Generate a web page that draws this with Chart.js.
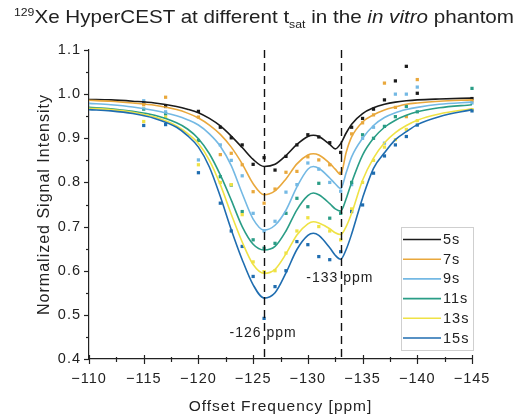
<!DOCTYPE html>
<html>
<head>
<meta charset="utf-8">
<script src="https://cdn.jsdelivr.net/npm/chart.js@4/dist/chart.umd.min.js"></script>
<style>
  html, body { margin: 0; padding: 0; background: #fff; }
  #wrap { position: relative; width: 518px; height: 414px; }
  #c { position: absolute; left: 0; top: 0; }
  #title {
    position: absolute; left: 4.5px; top: 6px; width: 518px;
    text-align: center; white-space: nowrap;
    font-family: "Liberation Sans", Arial, sans-serif;
    font-size: 18.5px; color: #222; line-height: 22px;
    transform: scaleX(1.114); transform-origin: 50% 50%;
  }
  #title sup { font-size: 11px; vertical-align: 0; position: relative; top: -7px; }
  #title sub { font-size: 11px; vertical-align: 0; position: relative; top: 5px; }
</style>
</head>
<body>
<div id="wrap">
  <canvas id="c" width="518" height="414"></canvas>
  <div id="title"><sup>129</sup>Xe HyperCEST at different t<sub>sat</sub> in the <i>in vitro</i> phantom</div>
</div>
<script>
// Saturation times
const seriesLabels = ['5s', '7s', '9s', '11s', '13s', '15s'];

// Fitted z-spectra (offset in ppm, normalized signal)
const fitOffsets = [-110, -112, -114, -116, -118, -119, -120, -121, -122, -123, -124, -125, -126, -127, -128, -129, -130, -130.5, -131, -132, -132.5, -133, -133.5, -134, -135, -136, -137, -138, -139, -140, -142, -145];
const fit5s  = [0.988, 0.987, 0.984, 0.980, 0.972, 0.966, 0.958, 0.945, 0.928, 0.905, 0.879, 0.852, 0.836, 0.841, 0.861, 0.886, 0.904, 0.907, 0.904, 0.886, 0.876, 0.888, 0.912, 0.932, 0.956, 0.969, 0.977, 0.982, 0.985, 0.987, 0.989, 0.991];
const fit7s  = [0.986, 0.984, 0.980, 0.975, 0.965, 0.957, 0.946, 0.930, 0.909, 0.880, 0.842, 0.797, 0.772, 0.781, 0.808, 0.842, 0.862, 0.865, 0.862, 0.843, 0.830, 0.818, 0.868, 0.903, 0.937, 0.953, 0.964, 0.971, 0.977, 0.980, 0.984, 0.987];
const fit9s  = [0.979, 0.976, 0.971, 0.963, 0.951, 0.942, 0.930, 0.910, 0.882, 0.838, 0.775, 0.717, 0.692, 0.703, 0.737, 0.790, 0.830, 0.836, 0.832, 0.810, 0.797, 0.786, 0.822, 0.858, 0.900, 0.929, 0.947, 0.958, 0.965, 0.970, 0.977, 0.982];
const fit11s = [0.970, 0.967, 0.961, 0.952, 0.935, 0.921, 0.899, 0.865, 0.817, 0.760, 0.700, 0.660, 0.647, 0.655, 0.690, 0.738, 0.770, 0.776, 0.772, 0.752, 0.740, 0.735, 0.763, 0.800, 0.862, 0.900, 0.925, 0.941, 0.952, 0.960, 0.969, 0.976];
const fit13s = [0.968, 0.965, 0.959, 0.948, 0.928, 0.911, 0.888, 0.850, 0.795, 0.728, 0.665, 0.614, 0.594, 0.603, 0.638, 0.681, 0.706, 0.711, 0.708, 0.695, 0.686, 0.682, 0.700, 0.730, 0.805, 0.855, 0.890, 0.913, 0.929, 0.941, 0.955, 0.967];
const fit15s = [0.965, 0.962, 0.956, 0.945, 0.925, 0.906, 0.880, 0.835, 0.768, 0.693, 0.625, 0.568, 0.538, 0.550, 0.595, 0.648, 0.680, 0.685, 0.680, 0.652, 0.635, 0.626, 0.648, 0.683, 0.765, 0.832, 0.867, 0.897, 0.915, 0.931, 0.949, 0.965];

// Measured points
const measOffsets = [-115, -117, -120, -122, -123, -124, -125, -126, -127, -128, -129, -130, -131, -132, -133, -134, -135, -136, -137, -138, -139, -140, -145];
const meas5s  = [0.980, 0.972, 0.961, 0.925, 0.901, 0.885, 0.841, 0.856, 0.828, 0.859, 0.885, 0.908, 0.903, 0.890, 0.868, 0.925, 0.945, 0.966, 0.987, 1.030, 1.063, 1.002, 0.990];
const meas7s  = [0.976, 0.993, 0.948, 0.863, 0.866, 0.840, 0.779, 0.753, 0.785, 0.823, 0.825, 0.858, 0.851, 0.840, 0.821, 0.910, 0.935, 0.953, 1.025, 0.970, 0.949, 1.033, 0.985];
const meas9s  = [0.985, 0.960, 0.851, 0.885, 0.850, 0.815, 0.730, 0.690, 0.712, 0.778, 0.795, 0.844, 0.830, 0.800, 0.780, 0.795, 0.900, 0.925, 0.889, 1.000, 1.000, 1.016, 0.980];
const meas11s = [0.966, 0.955, 0.895, 0.813, 0.794, 0.734, 0.670, 0.651, 0.662, 0.730, 0.764, 0.745, 0.798, 0.719, 0.730, 0.800, 0.908, 0.900, 0.927, 0.949, 0.972, 0.960, 1.013];
const meas13s = [0.938, 0.948, 0.840, 0.800, 0.795, 0.727, 0.620, 0.598, 0.600, 0.640, 0.690, 0.720, 0.700, 0.690, 0.670, 0.740, 0.800, 0.850, 0.880, 0.897, 0.920, 0.940, 0.965];
const meas15s = [0.929, 0.931, 0.822, 0.753, 0.690, 0.655, 0.587, 0.492, 0.564, 0.600, 0.666, 0.659, 0.632, 0.625, 0.643, 0.734, 0.749, 0.821, 0.860, 0.885, 0.904, 0.930, 0.962];

// Xe@cryptophane resonances
const markerOffsets = [-126, -133];
const markerLabels = ['-126 ppm', '-133 ppm'];

const seriesColors = ['#1b1b1b', '#e9a83c', '#74b9e4', '#2a9d86', '#efe245', '#1f6db0'];
const fitSeries = [fit5s, fit7s, fit9s, fit11s, fit13s, fit15s];
const measSeries = [meas5s, meas7s, meas9s, meas11s, meas13s, meas15s];

const FONT = '"Liberation Sans", Arial, Helvetica, sans-serif';
const TEXT = '#222';
const SPACING = '1px';

const toXY = (xs, ys) => xs.map((x, i) => ({ x, y: ys[i] }));

const datasets = [];
seriesLabels.forEach((lab, i) => {
  datasets.push({
    label: lab,
    data: toXY(fitOffsets, fitSeries[i]),
    borderColor: seriesColors[i],
    borderWidth: 1.6,
    pointRadius: 0,
    cubicInterpolationMode: 'monotone',
    fill: false,
    order: 6 - i
  });
});
seriesLabels.forEach((lab, i) => {
  datasets.push({
    label: lab + ' data',
    data: toXY(measOffsets, measSeries[i]),
    showLine: false,
    pointStyle: 'rect',
    pointRadius: 2.3,
    pointBorderWidth: 0,
    backgroundColor: seriesColors[i],
    borderColor: seriesColors[i],
    clip: 6,
    order: 12 - i
  });
});

const decorations = {
  id: 'decorations',
  beforeDraw(chart) {
    // slightly wider text setting used throughout the figure
    chart.ctx.letterSpacing = SPACING;
  },
  afterDatasetsDraw(chart, args, opts) {
    const { ctx, chartArea: a, scales: { x, y } } = chart;
    ctx.save();
    // dashed resonance markers
    ctx.strokeStyle = '#111';
    ctx.lineWidth = 1.4;
    ctx.setLineDash([8, 5]);
    markerOffsets.forEach(p => {
      const px = Math.round(x.getPixelForValue(p)) + 0.5;
      ctx.beginPath();
      ctx.moveTo(px, a.top);
      ctx.lineTo(px, a.bottom);
      ctx.stroke();
    });
    ctx.setLineDash([]);
    // resonance labels, the gap between number and unit sits on the marker
    ctx.font = '14px ' + FONT;
    ctx.fillStyle = TEXT;
    ctx.textBaseline = 'middle';
    ctx.textAlign = 'left';
    markerLabels.forEach((txt, i) => {
      const px = x.getPixelForValue(markerOffsets[i]);
      const head = txt.split(' ')[0];
      const sx = px - ctx.measureText(head).width - ctx.measureText(' ').width / 2;
      ctx.fillText(txt, sx, y.getPixelForValue(opts.labelLevels[i]));
    });
    ctx.restore();
  },
  afterDraw(chart, args, opts) {
    const { ctx, chartArea: a, scales: { x, y } } = chart;
    ctx.save();
    ctx.strokeStyle = '#222';
    ctx.lineWidth = 1.2;
    // y ticks: major 0.1, minor 0.05, pointing outward
    for (let k = 0; k <= 14; k++) {
      const v = 0.4 + k * 0.05;
      const py = Math.round(y.getPixelForValue(v)) + 0.5;
      const len = k % 2 === 0 ? 5 : 3;
      ctx.beginPath();
      ctx.moveTo(a.left - len, py);
      ctx.lineTo(a.left, py);
      ctx.stroke();
    }
    // x ticks: major 5 ppm, minor 2.5 ppm, crossing the axis
    for (let k = 0; k <= 14; k++) {
      const v = -110 - k * 2.5;
      const px = Math.round(x.getPixelForValue(v)) + 0.5;
      const major = k % 2 === 0;
      ctx.beginPath();
      ctx.moveTo(px, a.bottom - (major ? 4 : 2));
      ctx.lineTo(px, a.bottom + (major ? 5 : 3));
      ctx.stroke();
    }
    // legend box
    const L = opts.legend;
    ctx.strokeStyle = '#cfcfcf';
    ctx.lineWidth = 1;
    ctx.strokeRect(L.left + 0.5, L.top + 0.5, L.width, L.height);
    ctx.font = '14.5px ' + FONT;
    ctx.fillStyle = TEXT;
    ctx.textBaseline = 'middle';
    ctx.textAlign = 'left';
    seriesLabels.forEach((lab, i) => {
      const cy = L.top + L.firstRow + i * L.rowStep;
      ctx.strokeStyle = seriesColors[i];
      ctx.lineWidth = 1.6;
      ctx.beginPath();
      ctx.moveTo(L.left + 2, cy + 0.5);
      ctx.lineTo(L.left + 2 + L.sample, cy + 0.5);
      ctx.stroke();
      ctx.fillText(lab, L.left + 4 + L.sample, cy + 1);
    });
    ctx.restore();
  }
};

new Chart(document.getElementById('c'), {
  type: 'line',
  data: { datasets },
  options: {
    responsive: false,
    animation: false,
    devicePixelRatio: 1,
    layout: { padding: { top: 50, right: 46, left: 0, bottom: 0 } },
    plugins: {
      legend: { display: false },
      tooltip: { enabled: false },
      decorations: {
        labelLevels: [0.459, 0.583],
        legend: { left: 401, top: 227, width: 72, height: 123, firstRow: 12, rowStep: 19.7, sample: 38 }
      }
    },
    scales: {
      x: {
        type: 'linear',
        reverse: true,
        min: -145,
        max: -110,
        afterFit: s => { s.height = 55; },
        grid: { display: false, drawTicks: false },
        border: { display: true, color: '#222', width: 1.2 },
        ticks: {
          stepSize: 5,
          padding: 11,
          color: TEXT,
          font: { family: FONT, size: 14.5 },
          maxRotation: 0,
          autoSkip: false,
          callback: v => (v < 0 ? '\u2212' : '') + Math.abs(v)
        },
        title: {
          display: true,
          text: 'Offset Frequency [ppm]',
          color: TEXT,
          font: { family: FONT, size: 15.5, lineHeight: 1 },
          padding: 0
        }
      },
      y: {
        min: 0.4,
        max: 1.1,
        afterFit: s => { s.width = 89; },
        grid: { display: false, drawTicks: false },
        border: { display: true, color: '#222', width: 1.2 },
        ticks: {
          stepSize: 0.1,
          padding: 8,
          color: TEXT,
          font: { family: FONT, size: 14.5 },
          callback: v => v.toFixed(1)
        },
        title: {
          display: true,
          text: 'Normalized Signal Intensity',
          color: TEXT,
          font: { family: FONT, size: 16, lineHeight: 1.2 },
          padding: { top: 35, bottom: 0 }
        }
      }
    }
  },
  plugins: [decorations]
});
</script>
</body>
</html>
